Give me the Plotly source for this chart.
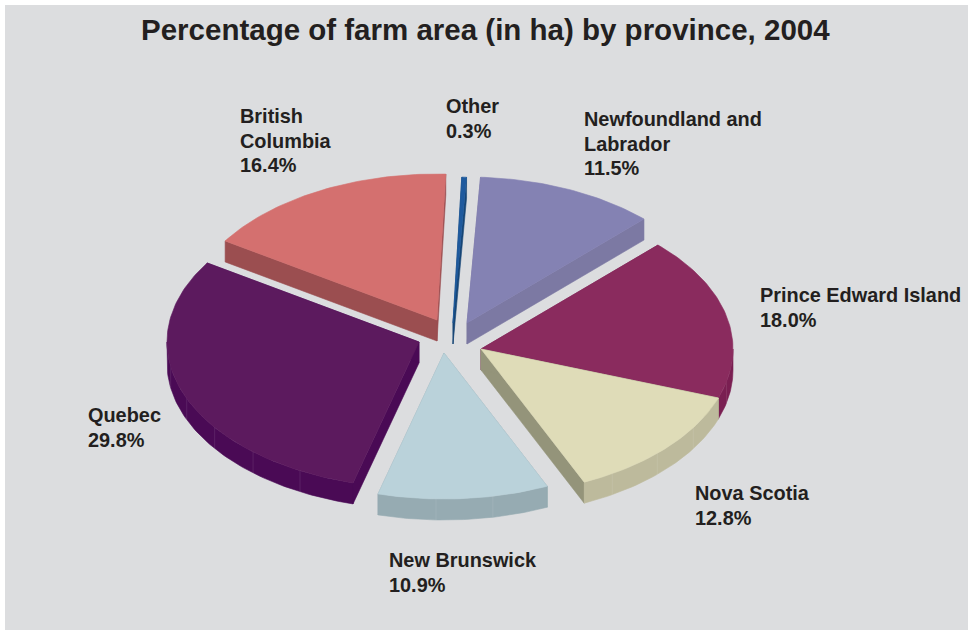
import math
import plotly.graph_objects as go

# Data
provinces = ["Other", "Newfoundland and<br>Labrador", "Prince Edward Island", "Nova Scotia",
             "New Brunswick", "Quebec", "British<br>Columbia"]
shares = [0.3, 11.5, 18.0, 12.8, 10.9, 29.8, 16.4]
title = "Percentage of farm area (in ha) by province, 2004"

# Styles
top_colors = ["#1F5A9E", "#8482B3", "#8A2B5E", "#DFDCB8", "#BAD2DA", "#5C1A5E", "#D4706F"]
cut_colors = ["#174677", "#7C79A3", "#7A1F52", "#94947A", "#94A9B0", "#4A0A55", "#9B4E50"]
arc_colors = ["#174677", "#7C79A3", "#7A1F52", "#BDBA9C", "#96ABB2", "#4A0A55", "#9B4E50"]
pull_dx = [3, 17, 31, 31, -6, -31, -13]
pull_dy = [-12, -12, 14, 14, 18, 7, -15]
label_x = [446, 584, 760, 695, 389, 88, 240]
label_y = [106, 119, 295, 493, 560, 415, 116]
draw_order = [6, 0, 1, 2, 5, 3, 4]

CX, CY, RX, RY, DEPTH = 450, 335, 252, 146, 21
START_DEG = 2.0
BAND_DEG = 13
LINE_GAP = 24.6
FONT = "Liberation Sans, Arial, sans-serif"
INK = "#231F20"


def point(ax, ay, deg, drop=0):
    r = math.radians(deg)
    return ax + RX * math.sin(r), ay - RY * math.cos(r) + drop


def arc_degs(a, b, step=1.0):
    n = max(1, int(math.ceil((b - a) / step)))
    return [a + (b - a) * i / n for i in range(n + 1)]


def polygon(fig, xs, ys, color, name):
    fig.add_trace(go.Scatter(x=xs, y=ys, mode="lines", fill="toself", fillcolor=color,
                             line=dict(width=0.6, color=color), hoverinfo="skip",
                             showlegend=False, name=name))


fig = go.Figure()
total = sum(shares)
bounds = [START_DEG]
for s in shares:
    bounds.append(bounds[-1] + s / total * 360)

for i in draw_order:
    a, b = bounds[i], bounds[i + 1]
    ax, ay = CX + pull_dx[i], CY + pull_dy[i]
    name = provinces[i].replace("<br>", " ")

    # cut faces
    xs, ys = [], []
    for deg in (a, b):
        px, py = point(ax, ay, deg)
        xs += [ax, px, px, ax, ax, None]
        ys += [ay, py, py + DEPTH, ay + DEPTH, ay, None]
    polygon(fig, xs, ys, cut_colors[i], name + " cut faces")

    # outer rim, front part only
    lo, hi = max(a, 90), min(b, 270)
    if hi > lo:
        degs = arc_degs(lo, hi)
        top = [point(ax, ay, d) for d in degs]
        bot = [point(ax, ay, d, DEPTH) for d in degs]
        ring = top + bot[::-1] + [top[0]]
        polygon(fig, [p[0] for p in ring], [p[1] for p in ring], arc_colors[i], name + " rim")
        dx, dy = [], []
        d = lo + BAND_DEG
        while d < hi - 3:
            p, q = point(ax, ay, d), point(ax, ay, d, DEPTH)
            dx += [p[0], q[0], None]
            dy += [p[1], q[1], None]
            d += BAND_DEG
        if dx:
            fig.add_trace(go.Scatter(x=dx, y=dy, mode="lines", hoverinfo="skip", showlegend=False,
                                     line=dict(width=0.6, color="rgba(255,255,255,0.16)")))

    # top face
    pts = [(ax, ay)] + [point(ax, ay, d) for d in arc_degs(a, b)] + [(ax, ay)]
    polygon(fig, [p[0] for p in pts], [p[1] for p in pts], top_colors[i], name)

annotations = []
for i in range(len(shares)):
    lines = provinces[i].split("<br>") + [f"{shares[i]:.1f}%"]
    for j, line in enumerate(lines):
        annotations.append(dict(x=label_x[i], y=label_y[i] + j * LINE_GAP, xref="x", yref="y",
                                xanchor="left", yanchor="middle", align="left", showarrow=False,
                                xshift=-2, text=f"<b>{line}</b>",
                                font=dict(family=FONT, size=19.9, color=INK)))
annotations.append(dict(x=485, y=29, xref="x", yref="y", xanchor="center", yanchor="middle",
                        showarrow=False, text=f"<b>{title}</b>",
                        font=dict(family=FONT, size=29.5, color=INK)))

fig.update_layout(
    width=968, height=630, margin=dict(l=0, r=0, t=0, b=0),
    paper_bgcolor="#FFFFFF", plot_bgcolor="#FFFFFF", showlegend=False,
    xaxis=dict(range=[0, 968], visible=False, fixedrange=True),
    yaxis=dict(range=[630, 0], visible=False, fixedrange=True),
    shapes=[dict(type="rect", xref="x", yref="y", x0=5, y0=5, x1=968, y1=630,
                 fillcolor="#DCDDDF", line=dict(width=0), layer="below")],
    annotations=annotations,
)
fig.write_html("out.html", config={"displayModeBar": False},
               post_script="document.body.style.margin='0';")
